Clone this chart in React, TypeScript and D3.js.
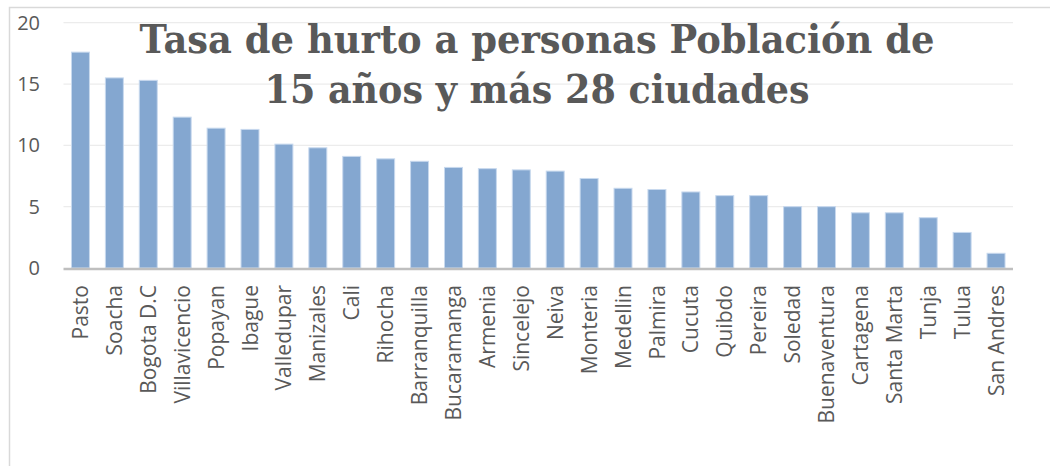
import React from "react";
import * as d3 from "d3";

const cities = [
  "Pasto", "Soacha", "Bogota D.C", "Villavicencio", "Popayan", "Ibague", "Valledupar",
  "Manizales", "Cali", "Rihocha", "Barranquilla", "Bucaramanga", "Armenia", "Sincelejo",
  "Neiva", "Monteria", "Medellin", "Palmira", "Cucuta", "Quibdo", "Pereira", "Soledad",
  "Buenaventura", "Cartagena", "Santa Marta", "Tunja", "Tulua", "San Andres",
];
const rates = [
  17.6, 15.5, 15.3, 12.3, 11.4, 11.3, 10.1, 9.8, 9.1, 8.9, 8.7, 8.2, 8.1, 8.0,
  7.9, 7.3, 6.5, 6.4, 6.2, 5.9, 5.9, 5.0, 5.0, 4.5, 4.5, 4.1, 2.9, 1.2,
];
const yTicks = [0, 5, 10, 15, 20];
const titleLines = ["Tasa de hurto a personas Población de", "15 años y más 28 ciudades"];

const W = 1050;
const H = 466;

export default function App() {
  const x = d3.scaleBand<string>().domain(cities).range([63.5, 1013]).paddingInner(0.47).paddingOuter(0.235);
  const y = d3.scaleLinear().domain([0, 20]).range([268, 22.7]);
  const grey = "#595959";
  return (
    <div style={{ position: "fixed", left: 0, top: 0 }}>
      <svg width={W} height={H} style={{ display: "block", background: "#fff" }}>
        <rect x={9.5} y={7.5} width={1100} height={500} fill="#fff" stroke="#d9d9d9" strokeWidth={1.5} />
        {yTicks.map((t) => (
          <g key={t}>
            {t > 0 && <line x1={63.5} x2={1013} y1={y(t)} y2={y(t)} stroke="#ececec" strokeWidth={1.2} />}
            <text x={40} y={y(t)} dy="0.35em" textAnchor="end" fontFamily="'Open Sans', sans-serif" fontSize={20} fill={grey}>
              {t}
            </text>
          </g>
        ))}
        {cities.map((c, i) => (
          <rect
            key={c}
            x={x(c)!}
            y={y(rates[i])}
            width={x.bandwidth()}
            height={y(0) - y(rates[i])}
            fill="#84a7d0"
            stroke="#c8d9ee"
            strokeWidth={1}
          />
        ))}
        <line x1={63.5} x2={1013} y1={y(0) + 1} y2={y(0) + 1} stroke="#bfbfbf" strokeWidth={2.5} />
        {cities.map((c) => (
          <text
            key={c}
            transform={`translate(${x(c)! + x.bandwidth() / 2},285) rotate(-90)`}
            dy="0.36em"
            textAnchor="end"
            fontFamily="'Open Sans', sans-serif"
            fontSize={21}
            fill={grey}
          >
            {c}
          </text>
        ))}
        {titleLines.map((l, i) => (
          <text
            key={l}
            x={537}
            y={52.7 + i * 50}
            textAnchor="middle"
            fontFamily="'DejaVu Serif', serif"
            fontWeight="bold"
            fontSize={40}
            fill={grey}
            textLength={i === 0 ? 795 : 545}
            lengthAdjust="spacingAndGlyphs"
          >
            {l}
          </text>
        ))}
      </svg>
    </div>
  );
}
